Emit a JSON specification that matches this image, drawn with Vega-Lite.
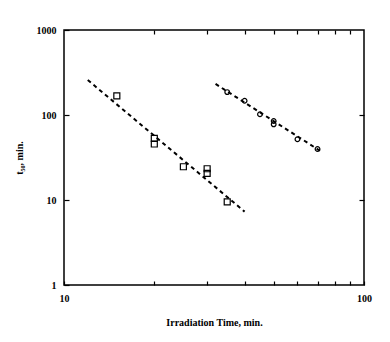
{
  "$schema": "https://vega.github.io/schema/vega-lite/v6.json",
  "autosize": {"type": "none"},
  "padding": {"left": 64, "top": 30, "right": 26, "bottom": 57},
  "width": 300,
  "height": 255,
  "background": "white",
  "config": {
    "view": {"stroke": "black", "strokeWidth": 1.5},
    "axis": {
      "labelFont": "Liberation Serif",
      "titleFont": "Liberation Serif",
      "labelFontWeight": "bold",
      "titleFontWeight": "bold",
      "labelFontSize": 10,
      "titleFontSize": 10,
      "labelColor": "black",
      "titleColor": "black",
      "tickColor": "black",
      "tickWidth": 1.2,
      "domainColor": "black",
      "grid": false
    }
  },
  "datasets": {
    "pts": [
      {"time": 15, "t50": 168, "series": "A"},
      {"time": 20, "t50": 53, "series": "A"},
      {"time": 20, "t50": 45.6, "series": "A"},
      {"time": 25, "t50": 24.6, "series": "A"},
      {"time": 30, "t50": 23.3, "series": "A"},
      {"time": 30, "t50": 20.6, "series": "A"},
      {"time": 35, "t50": 9.5, "series": "A"},
      {"time": 35, "t50": 186, "series": "B"},
      {"time": 40, "t50": 147, "series": "B"},
      {"time": 45, "t50": 102, "series": "B"},
      {"time": 50, "t50": 85, "series": "B"},
      {"time": 50, "t50": 77.6, "series": "B"},
      {"time": 60, "t50": 51.8, "series": "B"},
      {"time": 70, "t50": 39.8, "series": "B"}
    ],
    "fits": [
      {"time": 12, "t50": 258, "series": "A"},
      {"time": 40, "t50": 7.3, "series": "A"},
      {"time": 32, "t50": 232, "series": "B"},
      {"time": 71.3, "t50": 38, "series": "B"}
    ]
  },
  "layer": [
    {
      "data": {"name": "fits"},
      "mark": {"type": "line", "color": "black", "strokeWidth": 2, "strokeDash": [4, 3.5]},
      "encoding": {
        "x": {
          "field": "time", "type": "quantitative",
          "scale": {"type": "log", "domain": [10, 100], "nice": false},
          "axis": {
            "orient": "bottom",
            "title": "Irradiation Time, min.",
            "titlePadding": 14,
            "values": [10, 20, 30, 40, 50, 60, 70, 80, 90, 100],
            "labelExpr": "datum.value == 10 || datum.value == 100 ? datum.label : ''",
            "tickSize": -4,
            "labelPadding": 12,
            "labelFlush": false,
            "domain": false
          }
        },
        "y": {
          "field": "t50", "type": "quantitative",
          "scale": {"type": "log", "domain": [1, 1000], "nice": false},
          "axis": {
            "orient": "left",
            "title": "t₅₀, min.",
            "titlePadding": 12,
            "values": [1, 10, 100, 1000],
            "format": "d",
            "tickSize": -5,
            "labelPadding": 13,
            "labelFlush": false,
            "domain": false
          }
        },
        "detail": {"field": "series"}
      }
    },
    {
      "data": {"name": "pts"},
      "mark": {"type": "point", "filled": false, "color": "black", "strokeWidth": 1.2, "opacity": 1},
      "encoding": {
        "x": {
          "field": "time", "type": "quantitative",
          "scale": {"type": "log", "domain": [10, 100], "nice": false},
          "axis": {
            "orient": "top", "title": null, "labels": false, "domain": false,
            "values": [20, 30, 40, 50, 60, 70, 80, 90], "tickSize": -4
          }
        },
        "y": {
          "field": "t50", "type": "quantitative",
          "scale": {"type": "log", "domain": [1, 1000], "nice": false},
          "axis": {
            "orient": "right", "title": null, "labels": false, "domain": false,
            "values": [10, 100], "tickSize": -5
          }
        },
        "shape": {
          "field": "series", "type": "nominal",
          "scale": {"domain": ["A", "B"], "range": ["square", "circle"]},
          "legend": null
        },
        "size": {
          "field": "series", "type": "nominal",
          "scale": {"domain": ["A", "B"], "range": [36, 22]},
          "legend": null
        }
      }
    }
  ],
  "resolve": {"axis": {"x": "independent", "y": "independent"}}
}
